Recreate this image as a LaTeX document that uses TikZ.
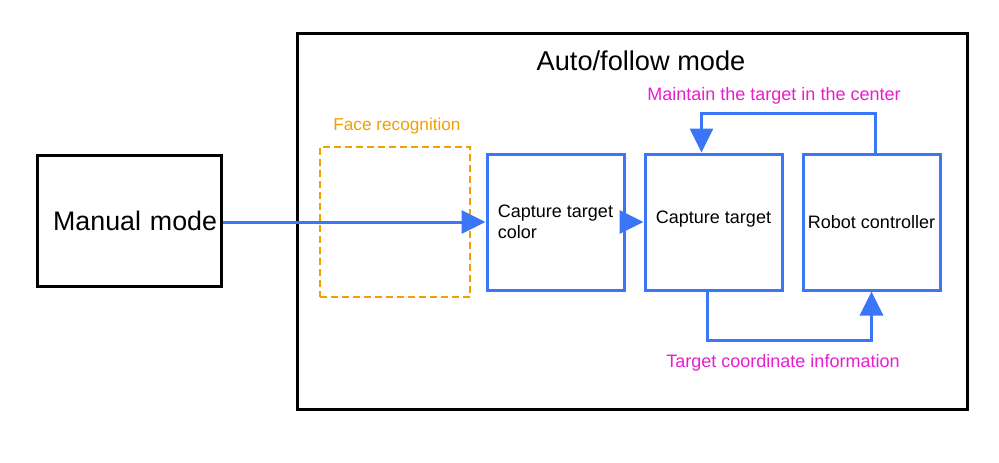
\documentclass[tikz,border=0pt]{standalone}
\usepackage{fontspec}
\setmainfont{Liberation Sans}
\usetikzlibrary{positioning}
\usetikzlibrary{arrows.meta}

\definecolor{flowblue}{RGB}{59,118,246}
\definecolor{faceorange}{RGB}{240,160,0}
\definecolor{notemagenta}{RGB}{230,30,205}

\begin{document}
\begin{tikzpicture}[x=1pt, y=-1pt,
            blacksquarednode/.style={rectangle, draw=black, line width=3pt},
            bluesquarednode/.style={rectangle, draw=flowblue, line width=3pt, minimum width=137pt, minimum height=136pt, font=\fontsize{18}{21}\selectfont},
            dashedsquarednode/.style={rectangle, draw=faceorange, line width=2.8pt, dash pattern=on 7pt off 4pt, minimum width=150pt, minimum height=150pt},
            flow/.style={draw=flowblue, line width=3pt, -{Triangle[length=24pt,width=23pt]}},
            notelabel/.style={text=notemagenta, font=\fontsize{18}{21}\selectfont},
            node distance=18pt,
            ]
            \useasboundingbox (0,0) rectangle (999,463);

            \node[blacksquarednode, minimum width=184pt, minimum height=131pt, inner xsep=0pt, text width=176pt, align=right, font=\fontsize{26.8}{30}\selectfont] (manual) at (129,220.5) {Manual mode};
            \node[blacksquarednode, minimum width=670pt, minimum height=376pt] (auto) at (632,221) {};
            \node[font=\fontsize{27.2}{30}\selectfont] (autotitle) at (641,61) {Auto/follow mode};

            \node[dashedsquarednode] (face) at (395,222) {};
            \node[text=faceorange, font=\fontsize{17.2}{20}\selectfont] (facetitle) at (397,126) {Face recognition};

            \node[bluesquarednode, align=left] (color) at (555.5,222) {Capture target\\color};
            \node[bluesquarednode, right=of color, text depth=10pt] (target) {Capture target};
            \node[bluesquarednode, right=of target] (robot) {Robot controller};

            \draw[flow] (manual.east |- color.west) -- (color.west);
            \draw[flow] (color.east) -- (target.west);
            \draw[flow] ([xshift=4pt]robot.north) -- ++(0,-39) -| ([xshift=-12pt]target.north);
            \draw[flow] ([xshift=-6pt]target.south) -- ++(0,49) -| (robot.south);

            \node[notelabel] (maintain) at (774,96) {Maintain the target in the center};
            \node[notelabel] (coordinate) at (783,363) {Target coordinate information};
        \end{tikzpicture}
\end{document}
